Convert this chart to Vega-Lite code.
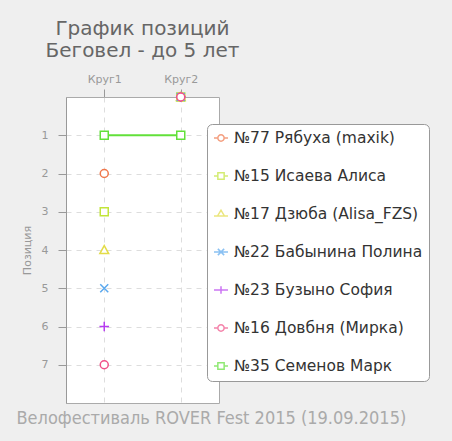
{
  "$schema": "https://vega.github.io/schema/vega-lite/v6.json",
  "width": 153,
  "height": 306,
  "autosize": {"type": "none"},
  "padding": {"left": 66, "top": 97, "right": 233, "bottom": 38},
  "background": "#efefef",
  "config": {"view": {"fill": "white", "stroke": "#aaaaaa"}, "font": "DejaVu Sans"},
  "title": {
    "text": ["График позиций", "Беговел - до 5 лет"],
    "fontSize": 20,
    "font": "DejaVu Sans",
    "fontWeight": "normal",
    "color": "#666666",
    "anchor": "middle",
    "offset": 12,
    "lineHeight": 22
  },
  "data": {
    "values": [
      {"rider": "№77 Рябуха (maxik)", "lap": "Круг1", "pos": 2},
      {"rider": "№15 Исаева Алиса", "lap": "Круг1", "pos": 3},
      {"rider": "№17 Дзюба (Alisa_FZS)", "lap": "Круг1", "pos": 4},
      {"rider": "№22 Бабынина Полина", "lap": "Круг1", "pos": 5},
      {"rider": "№23 Бузыно София", "lap": "Круг1", "pos": 6},
      {"rider": "№16 Довбня (Мирка)", "lap": "Круг1", "pos": 7},
      {"rider": "№35 Семенов Марк", "lap": "Круг1", "pos": 1},
      {"rider": "№77 Рябуха (maxik)", "lap": "Круг2", "pos": 0},
      {"rider": "№15 Исаева Алиса", "lap": "Круг2", "pos": 0},
      {"rider": "№17 Дзюба (Alisa_FZS)", "lap": "Круг2", "pos": 0},
      {"rider": "№22 Бабынина Полина", "lap": "Круг2", "pos": 0},
      {"rider": "№23 Бузыно София", "lap": "Круг2", "pos": 0},
      {"rider": "№16 Довбня (Мирка)", "lap": "Круг2", "pos": 0},
      {"rider": "№35 Семенов Марк", "lap": "Круг2", "pos": 1}
    ]
  },
  "resolve": {"scale": {"shape": "independent", "color": "independent", "stroke": "independent"}, "axis": {"x": "independent"}},
  "encoding": {
    "y": {
      "field": "pos",
      "type": "quantitative",
      "scale": {"domain": [0, 8], "reverse": true, "nice": false, "zero": false},
      "axis": {
        "values": [1, 2, 3, 4, 5, 6, 7],
        "title": "Позиция",
        "titleColor": "#999999",
        "titleFontSize": 11,
        "titleFontWeight": "normal",
        "titleFont": "DejaVu Sans",
        "titlePadding": 9,
        "labelColor": "#999999",
        "labelFontSize": 11,
        "labelPadding": 10,
        "tickSize": 8,
        "tickColor": "#999999",
        "domainColor": "#999999",
        "grid": true,
        "gridColor": "#dddddd",
        "gridDash": [5, 5]
      }
    }
  },
  "layer": [
    {
      "transform": [{"filter": "datum.pos > 0"}],
      "mark": {"type": "line", "strokeWidth": 2},
      "encoding": {
        "x": {
          "field": "lap",
          "type": "ordinal",
          "scale": {"type": "point", "padding": 0.5, "domain": ["Круг1", "Круг2"]},
          "axis": {
            "orient": "top",
            "title": null,
            "labelAngle": 0,
            "labelColor": "#999999",
            "labelFontSize": 11,
            "labelPadding": 5,
            "tickSize": 8,
            "tickColor": "#999999",
            "domain": false,
            "grid": true,
            "gridColor": "#dddddd",
            "gridDash": [5, 5]
          }
        },
        "color": {
          "field": "rider",
          "type": "nominal",
          "scale": {
            "domain": ["№77 Рябуха (maxik)", "№15 Исаева Алиса", "№17 Дзюба (Alisa_FZS)", "№22 Бабынина Полина", "№23 Бузыно София", "№16 Довбня (Мирка)", "№35 Семенов Марк"],
            "range": ["#f0774b", "#c2e53a", "#e3dc48", "#5aa8ee", "#b63cf0", "#f05088", "#62e03a"]
          },
          "legend": null
        },
        "detail": {"field": "rider"}
      }
    },
    {
      "transform": [{"filter": "datum.pos < 0"}],
      "mark": {"type": "point", "filled": false, "strokeWidth": 1.5, "size": 196},
      "encoding": {
        "x": {
          "field": "lap",
          "type": "ordinal",
          "scale": {"type": "point", "padding": 0.5, "domain": ["Круг1", "Круг2"]},
          "axis": {
            "orient": "bottom",
            "title": "Велофестиваль ROVER Fest 2015 (19.09.2015)",
            "labels": false,
            "ticks": false,
            "domain": false,
            "grid": false,
            "titleFont": "DejaVu Sans Condensed",
            "titleFontSize": 18,
            "titleFontWeight": "normal",
            "titleColor": "#aaaaaa",
            "titleAnchor": "start",
            "titleAlign": "left",
            "titleBaseline": "alphabetic",
            "titleX": -50,
            "titleY": 20
          }
        },
        "color": {
          "field": "rider",
          "type": "nominal",
          "scale": {
            "domain": ["№77 Рябуха (maxik)", "№15 Исаева Алиса", "№17 Дзюба (Alisa_FZS)", "№22 Бабынина Полина", "№23 Бузыно София", "№16 Довбня (Мирка)", "№35 Семенов Марк"],
            "range": ["#f0774b", "#c2e53a", "#e3dc48", "#5aa8ee", "#b63cf0", "#f05088", "#62e03a"]
          },
          "legend": {
            "orient": "none", "legendX": 141, "legendY": 27, "title": null,
            "fillColor": "white", "strokeColor": "#999999", "cornerRadius": 5,
            "padding": 6, "rowPadding": 21, "symbolSize": 196, "symbolStrokeWidth": 1.5,
            "labelFont": "DejaVu Sans", "labelFontSize": 15.5, "labelColor": "#333333",
            "labelOffset": 5, "labelLimit": 300
          }
        },
        "shape": {
          "field": "rider",
          "type": "nominal",
          "scale": {
            "domain": ["№77 Рябуха (maxik)", "№15 Исаева Алиса", "№17 Дзюба (Alisa_FZS)", "№22 Бабынина Полина", "№23 Бузыно София", "№16 Довбня (Мирка)", "№35 Семенов Марк"],
            "range": [
              "M-1,0L-0.45,0A0.45,0.45 0 1,1 0.45,0L1,0L0.45,0A0.45,0.45 0 1,1 -0.45,0",
              "M-1,0L-0.45,0L-0.45,-0.45L0.45,-0.45L0.45,0L1,0L0.45,0L0.45,0.45L-0.45,0.45L-0.45,0",
              "M-1,0.3L-0.5,0.3L0,-0.55L0.5,0.3L1,0.3L-0.5,0.3",
              "M-1,0L1,0M-0.45,-0.45L0.45,0.45M-0.45,0.45L0.45,-0.45",
              "M-1,0L1,0M0,-0.55L0,0.55",
              "M-1,0L-0.45,0A0.45,0.45 0 1,1 0.45,0L1,0L0.45,0A0.45,0.45 0 1,1 -0.45,0",
              "M-1,0L-0.45,0L-0.45,-0.45L0.45,-0.45L0.45,0L1,0L0.45,0L0.45,0.45L-0.45,0.45L-0.45,0"
            ]
          },
          "legend": {
            "orient": "none", "legendX": 141, "legendY": 27, "title": null,
            "fillColor": "white", "strokeColor": "#999999", "cornerRadius": 5,
            "padding": 6, "rowPadding": 21, "symbolSize": 196, "symbolStrokeWidth": 1.5,
            "labelFont": "DejaVu Sans", "labelFontSize": 15.5, "labelColor": "#333333",
            "labelOffset": 5, "labelLimit": 300
          }
        }
      }
    },
    {
      "mark": {"type": "point", "filled": false, "fill": "white", "fillOpacity": 1, "strokeWidth": 1.5, "size": 64, "opacity": 1, "clip": false},
      "encoding": {
        "x": {"field": "lap", "type": "ordinal", "scale": {"type": "point", "padding": 0.5, "domain": ["Круг1", "Круг2"]}, "axis": null},
        "stroke": {
          "field": "rider",
          "type": "nominal",
          "scale": {
            "domain": ["№77 Рябуха (maxik)", "№15 Исаева Алиса", "№17 Дзюба (Alisa_FZS)", "№22 Бабынина Полина", "№23 Бузыно София", "№16 Довбня (Мирка)", "№35 Семенов Марк"],
            "range": ["#f0774b", "#c2e53a", "#e3dc48", "#5aa8ee", "#b63cf0", "#f05088", "#62e03a"]
          },
          "legend": null
        },
        "shape": {
          "field": "rider",
          "type": "nominal",
          "scale": {
            "domain": ["№77 Рябуха (maxik)", "№15 Исаева Алиса", "№17 Дзюба (Alisa_FZS)", "№22 Бабынина Полина", "№23 Бузыно София", "№16 Довбня (Мирка)", "№35 Семенов Марк"],
            "range": [
              "M-1,0A1,1 0 1,0 1,0A1,1 0 1,0 -1,0",
              "M-1,-1L1,-1L1,1L-1,1Z",
              "M0,-1.1L1.1,0.9L-1.1,0.9Z",
              "M-1,-1L1,1M-1,1L1,-1",
              "M-1.2,0L1.2,0M0,-1.2L0,1.2",
              "M-1,0A1,1 0 1,0 1,0A1,1 0 1,0 -1,0",
              "M-1,-1L1,-1L1,1L-1,1Z"
            ]
          },
          "legend": null
        }
      }
    }
  ]
}
